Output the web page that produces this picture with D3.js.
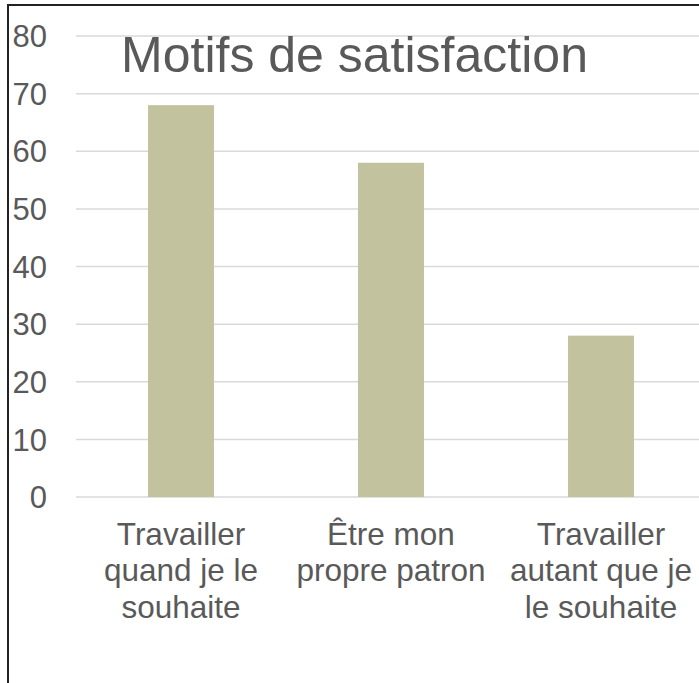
<!DOCTYPE html>
<html>
<head>
<meta charset="utf-8">
<script src="https://cdn.jsdelivr.net/npm/d3@7"></script>
<style>
  html, body { margin: 0; padding: 0; background: #fff; }
  svg { display: block; font-family: "Liberation Sans", Arial, sans-serif; }
</style>
</head>
<body>
<svg id="chart" width="699" height="683"></svg>
<script>
const categories = [
  ['Travailler', 'quand je le', 'souhaite'],
  ['Être mon', 'propre patron'],
  ['Travailler', 'autant que je', 'le souhaite'],
];
const values = [68, 58, 28];
const yTicks = [0, 10, 20, 30, 40, 50, 60, 70, 80];
const title = 'Motifs de satisfaction';

const svg = d3.select('#chart');
const textColor = '#595959';

const x = d3.scaleBand()
  .domain(d3.range(categories.length))
  .range([76, 706])
  .paddingInner(0.686)
  .paddingOuter(0.343);

const y = d3.scaleLinear()
  .domain([0, 80])
  .range([497, 36]);

// gridlines
svg.append('g')
  .selectAll('line')
  .data(yTicks)
  .enter()
  .append('line')
  .attr('x1', 76)
  .attr('x2', 706)
  .attr('y1', d => y(d))
  .attr('y2', d => y(d))
  .attr('stroke', '#d9d9d9')
  .attr('stroke-width', 1.5);

// y axis labels
svg.append('g')
  .selectAll('text')
  .data(yTicks)
  .enter()
  .append('text')
  .attr('x', 47)
  .attr('y', d => y(d))
  .attr('dy', '0.36em')
  .attr('text-anchor', 'end')
  .attr('font-size', 31)
  .attr('fill', textColor)
  .text(d => d);

// bars
svg.append('g')
  .selectAll('rect')
  .data(values)
  .enter()
  .append('rect')
  .attr('x', (d, i) => x(i))
  .attr('width', x.bandwidth())
  .attr('y', d => y(d))
  .attr('height', d => y(0) - y(d))
  .attr('fill', '#c2c29f');

// category labels
const cat = svg.append('g')
  .selectAll('text')
  .data(categories)
  .enter()
  .append('text')
  .attr('text-anchor', 'middle')
  .attr('font-size', 31.5)
  .attr('fill', textColor);

cat.selectAll('tspan')
  .data((d, i) => d.map(line => ({ line, i })))
  .enter()
  .append('tspan')
  .attr('x', d => x(d.i) + x.bandwidth() / 2)
  .attr('y', (d, j) => 545 + j * 36.3)
  .text(d => d.line);

// title
svg.append('text')
  .attr('x', 354.5)
  .attr('y', 72)
  .attr('text-anchor', 'middle')
  .attr('font-size', 50)
  .attr('fill', textColor)
  .text(title);

// frame (cropped at right and bottom)
svg.append('path')
  .attr('d', 'M8,700 L8,5 L710,5')
  .attr('fill', 'none')
  .attr('stroke', '#222')
  .attr('stroke-width', 2);
</script>
</body>
</html>
